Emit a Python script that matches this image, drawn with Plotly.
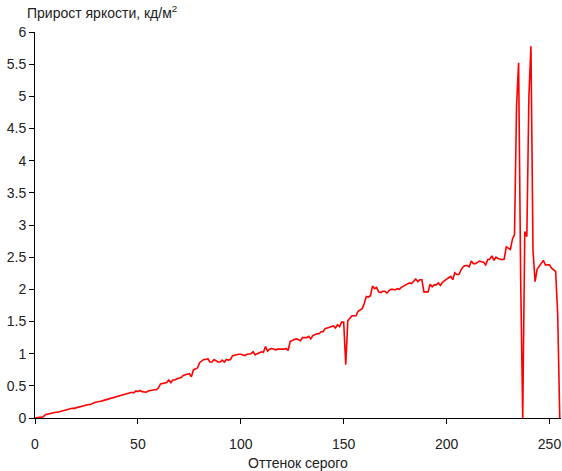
import plotly.graph_objects as go

gray_levels = list(range(256))

brightness_increment = [
    0.00, 0.01, 0.01, 0.01, 0.02, 0.05, 0.06, 0.06, 0.07, 0.08,
    0.09, 0.09, 0.10, 0.11, 0.12, 0.12, 0.13, 0.14, 0.15, 0.15,
    0.16, 0.17, 0.18, 0.18, 0.19, 0.20, 0.21, 0.21, 0.23, 0.24,
    0.25, 0.25, 0.26, 0.27, 0.28, 0.29, 0.30, 0.31, 0.32, 0.33,
    0.34, 0.34, 0.36, 0.36, 0.37, 0.38, 0.39, 0.40, 0.39, 0.42,
    0.41, 0.43, 0.41, 0.41, 0.40, 0.42, 0.43, 0.43, 0.44, 0.44,
    0.47, 0.53, 0.54, 0.55, 0.55, 0.59, 0.55, 0.59, 0.59, 0.61,
    0.62, 0.63, 0.66, 0.67, 0.68, 0.69, 0.64, 0.75, 0.76, 0.78,
    0.86, 0.89, 0.91, 0.91, 0.92, 0.87, 0.87, 0.91, 0.89, 0.87,
    0.87, 0.90, 0.87, 0.91, 0.90, 0.91, 0.97, 0.98, 0.98, 0.99,
    0.99, 0.98, 0.97, 0.99, 1.00, 1.00, 1.03, 0.98, 1.00, 1.01,
    1.03, 1.02, 1.11, 1.04, 1.07, 1.08, 1.07, 1.06, 1.07, 1.07,
    1.06, 1.07, 1.08, 1.05, 1.19, 1.21, 1.22, 1.23, 1.22, 1.20,
    1.25, 1.25, 1.25, 1.27, 1.23, 1.28, 1.30, 1.31, 1.31, 1.34,
    1.34, 1.39, 1.40, 1.41, 1.42, 1.43, 1.40, 1.45, 1.42, 1.49,
    1.49, 0.83, 1.51, 1.55, 1.59, 1.59, 1.59, 1.66, 1.68, 1.70,
    1.78, 1.89, 1.88, 1.90, 2.05, 2.01, 2.03, 1.96, 1.95, 1.97,
    1.97, 1.94, 1.98, 2.00, 2.00, 1.99, 2.01, 2.00, 2.03, 2.05,
    2.06, 2.09, 2.10, 2.09, 2.12, 2.16, 2.12, 2.15, 2.15, 1.96,
    1.96, 1.96, 2.08, 2.04, 2.07, 2.07, 2.10, 2.06, 2.11, 2.14,
    2.16, 2.18, 2.20, 2.15, 2.26, 2.23, 2.23, 2.30, 2.35, 2.37,
    2.37, 2.35, 2.44, 2.40, 2.40, 2.42, 2.44, 2.43, 2.42, 2.38,
    2.46, 2.47, 2.52, 2.45, 2.50, 2.48, 2.47, 2.46, 2.47, 2.66,
    2.64, 2.62, 2.78, 2.85, 4.85, 5.52, 2.16, 0.00, 2.90, 2.82,
    5.00, 5.78, 2.60, 2.12, 2.31, 2.36, 2.41, 2.45, 2.38, 2.38,
    2.38, 2.33, 2.30, 2.28, 1.60, 0.00,
]

x_ticks = [0, 50, 100, 150, 200, 250]
y_ticks = [0, 0.5, 1, 1.5, 2, 2.5, 3, 3.5, 4, 4.5, 5, 5.5, 6]

y_title = "Прирост яркости, кд/м<sup>2</sup>"
x_title = "Оттенок серого"

FONT = "Arial, 'Liberation Sans', sans-serif"
TXT = "#222222"

fig = go.Figure()
fig.add_trace(go.Scatter(
    x=gray_levels, y=brightness_increment, mode="lines",
    line=dict(color="#ff0000", width=1.6),
    hoverinfo="skip", showlegend=False,
))

fig.update_layout(
    width=562, height=471,
    margin=dict(l=35, r=1, t=32, b=53),
    paper_bgcolor="white", plot_bgcolor="white",
    font=dict(family=FONT, size=14, color=TXT),
    xaxis=dict(
        range=[0, 255.6], tickvals=x_ticks, ticks="outside", ticklen=5,
        tickcolor="#000", showline=True, linecolor="#000", linewidth=1,
        showgrid=False, zeroline=False, ticklabelstandoff=8,
        tickfont=dict(size=14, color=TXT),
        title=dict(text=x_title, font=dict(size=14, color=TXT), standoff=8),
    ),
    yaxis=dict(
        range=[0, 6], tickvals=y_ticks, ticks="outside", ticklen=5,
        tickcolor="#000", showline=True, linecolor="#000", linewidth=1,
        showgrid=False, zeroline=False,
        tickfont=dict(size=14, color=TXT),
    ),
    annotations=[dict(
        text=y_title, xref="paper", yref="paper",
        x=(25 - 35) / 526, y=1 + 20 / 386, xanchor="left", yanchor="middle",
        showarrow=False, font=dict(size=14, color=TXT),
    )],
)

fig.write_html(
    "out.html",
    config={"displayModeBar": False},
    post_script="document.body.style.margin='0';document.body.style.overflow='hidden';",
)
